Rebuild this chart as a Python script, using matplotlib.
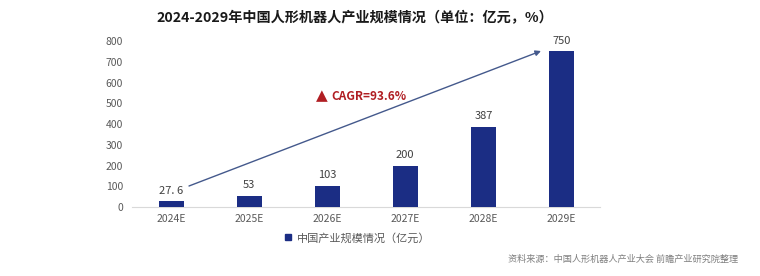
import matplotlib
matplotlib.use("Agg")
import matplotlib.pyplot as plt
from matplotlib.lines import Line2D

plt.rcParams['font.family'] = ['Noto Sans CJK SC', 'DejaVu Sans']

# ---- data ----
years = ["2024E", "2025E", "2026E", "2027E", "2028E", "2029E"]
values = [27.6, 53, 103, 200, 387, 750]
value_labels = ["27. 6", "53", "103", "200", "387", "750"]
cagr_text = "CAGR=93.6%"

BAR = "#1B2D84"
GREY = "#595959"
RED = "#B01E23"
LINE = "#44598C"

fig = plt.figure(figsize=(7.6, 2.76), dpi=100, facecolor="white")
ax = fig.add_axes([0.1737, 0.25, 0.6164, 0.6014])

x = list(range(len(years)))
ax.bar(x, values, width=0.32, color=BAR, zorder=3)
for xi, v, lab in zip(x, values, value_labels):
    ax.annotate(lab, (xi, v), xytext=(0, 4), textcoords="offset points",
                ha="center", va="bottom", fontsize=8, color="#404040")

ax.set_xlim(-0.5, len(years) - 0.5)
ax.set_ylim(0, 800)
ax.set_yticks(range(0, 801, 100))
ax.set_xticks(x)
ax.set_xticklabels(years)
ax.tick_params(axis="both", length=0, labelsize=7.5, colors=GREY)
ax.tick_params(axis="y", pad=6.5)
ax.tick_params(axis="x", pad=5)
for s in ["top", "right", "left"]:
    ax.spines[s].set_visible(False)
ax.spines["bottom"].set_color("#D9D9D9")
ax.spines["bottom"].set_linewidth(0.8)

# CAGR arrow (figure pixel coordinates converted to fractions)
W, H = 760, 276
ax.annotate("", xy=(541 / W, 1 - 51 / H), xytext=(189 / W, 1 - 186 / H),
            xycoords="figure fraction", textcoords="figure fraction",
            arrowprops=dict(arrowstyle="-|>", color=LINE, lw=1.0,
                            mutation_scale=8, shrinkA=0, shrinkB=0))
fig.text(322 / W, 1 - 96 / H, "▲", color=RED, fontsize=11,
         ha="center", va="center", family=["DejaVu Sans"])
fig.text(331 / W, 1 - 96 / H, cagr_text, color=RED, fontsize=8.5,
         fontweight="bold", ha="left", va="center")

# title
fig.text(355 / W, 1 - 18 / H, "2024-2029年中国人形机器人产业规模情况（单位：亿元，%）",
         ha="center", va="center", fontsize=10.2, fontweight="bold", color="#1A1A1A")

# legend
handle = Line2D([0], [0], marker="s", color="none", markerfacecolor=BAR,
                markeredgecolor=BAR, markersize=5)
fig.legend([handle], ["中国产业规模情况（亿元）"], loc="center left",
           bbox_to_anchor=(284 / W, 1 - 238 / H), frameon=False,
           fontsize=8, labelcolor=GREY, handlelength=0.8, handletextpad=0.4,
           borderpad=0, borderaxespad=0)

# source
fig.text(738 / W, 1 - 259 / H, "资料来源：中国人形机器人产业大会 前瞻产业研究院整理",
         ha="right", va="center", fontsize=6.6, color="#7F7F7F")

fig.savefig("out.png", dpi=100, facecolor="white")
